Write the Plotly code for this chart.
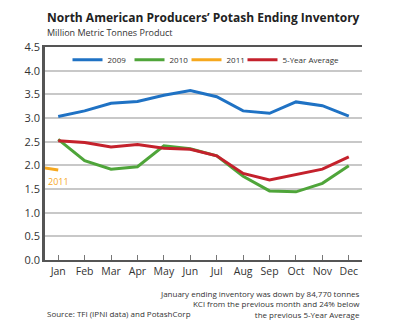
import plotly.graph_objects as go

months = ["Jan", "Feb", "Mar", "Apr", "May", "Jun", "Jul", "Aug", "Sep", "Oct", "Nov", "Dec"]
month_idx = list(range(12))
y2009 = [3.03, 3.15, 3.31, 3.35, 3.48, 3.58, 3.45, 3.15, 3.10, 3.34, 3.26, 3.04]
y2010 = [2.55, 2.10, 1.92, 1.97, 2.41, 2.35, 2.20, 1.77, 1.46, 1.44, 1.62, 1.99]
y5avg = [2.52, 2.48, 2.39, 2.44, 2.36, 2.34, 2.20, 1.83, 1.69, 1.80, 1.92, 2.18]
x2011 = [-1, 0]          # previous December -> January
y2011 = [1.99, 1.90]
yticks = [0.0, 0.5, 1.0, 1.5, 2.0, 2.5, 3.0, 3.5, 4.0, 4.5]

FONT = "Open Sans"
C_BLUE = "#1f72c4"
C_GREEN = "#4fa53a"
C_ORANGE = "#f6a81e"
C_RED = "#c4212c"

fig = go.Figure()
fig.add_trace(go.Scatter(x=month_idx, y=y2009, mode="lines", name="2009",
                         line=dict(color=C_BLUE, width=3), legend="legend"))
fig.add_trace(go.Scatter(x=month_idx, y=y2010, mode="lines", name="2010",
                         line=dict(color=C_GREEN, width=3), legend="legend2"))
fig.add_trace(go.Scatter(x=x2011, y=y2011, mode="lines", name="2011",
                         line=dict(color=C_ORANGE, width=3), legend="legend3"))
fig.add_trace(go.Scatter(x=month_idx, y=y5avg, mode="lines", name="5-Year Average",
                         line=dict(color=C_RED, width=3), legend="legend4"))

fig.add_annotation(x=0, y=y2011[1], xref="x", yref="y", text="2011",
                   showarrow=False, xanchor="center", yanchor="top", yshift=-3,
                   font=dict(family=FONT, size=9, color=C_ORANGE))

legend_common = dict(orientation="h", y=0.94, xanchor="left", yanchor="middle",
                     font=dict(family=FONT, size=8, color="#333333"),
                     bgcolor="rgba(0,0,0,0)", itemwidth=30, tracegroupgap=0)

fig.update_layout(
    width=400, height=333,
    margin=dict(l=45, r=38, t=47, b=73),
    paper_bgcolor="white", plot_bgcolor="white",
    font=dict(family=FONT, color="#333333"),
    showlegend=True,
    legend=dict(x=0.0710, **legend_common),
    legend2=dict(x=0.2666, **legend_common),
    legend3=dict(x=0.4464, **legend_common),
    legend4=dict(x=0.6230, **legend_common),
    xaxis=dict(range=[-0.5, 11.5], tickmode="array", tickvals=month_idx, ticktext=months,
               showgrid=False, zeroline=False, showline=True, linecolor="#555555", linewidth=2,
               ticks="inside", ticklen=5, tickcolor="#777777", tickwidth=1,
               tickfont=dict(family=FONT, size=10.5, color="#333333")),
    xaxis2=dict(overlaying="x", side="top", range=[-0.5, 11.5], showline=True,
                linecolor="#555555", linewidth=1.5, showticklabels=False, ticks="",
                showgrid=False, zeroline=False),
    yaxis=dict(range=[0, 4.5], tickmode="array", tickvals=yticks,
               ticktext=[f"{v:.1f}" for v in yticks],
               showgrid=True, gridcolor="#c8c8c8", gridwidth=1.5, zeroline=False,
               showline=True, linecolor="#555555", linewidth=2.5, ticks="",
               tickfont=dict(family=FONT, size=11, color="#333333")),
)
# invisible trace to activate top axis line
fig.add_trace(go.Scatter(x=[None], y=[None], xaxis="x2", showlegend=False, hoverinfo="skip"))

fig.add_annotation(xref="paper", yref="paper", x=0, y=1, yshift=30, xanchor="left", yanchor="middle",
                   text="<b>North American Producers’ Potash Ending Inventory</b>", showarrow=False,
                   font=dict(family=FONT, size=12, color="#222222"))
fig.add_annotation(xref="paper", yref="paper", x=0, y=1, yshift=14.5, xanchor="left", yanchor="middle",
                   text="Million Metric Tonnes Product", showarrow=False,
                   font=dict(family=FONT, size=9, color="#333333"))
fig.add_annotation(xref="paper", yref="paper", x=1, y=0, yshift=-26, xanchor="right", yanchor="top",
                   align="right", showarrow=False,
                   text="January ending inventory was down by 84,770 tonnes<br>KCl from the previous month and 24% below<br>the previous 5-Year Average",
                   font=dict(family=FONT, size=8, color="#333333"))
fig.add_annotation(xref="paper", yref="paper", x=0, y=0, yshift=-53, xanchor="left", yanchor="middle",
                   align="left", showarrow=False,
                   text="Source: TFI (IPNI data) and PotashCorp",
                   font=dict(family=FONT, size=8, color="#333333"))

fig.write_html("out.html")
